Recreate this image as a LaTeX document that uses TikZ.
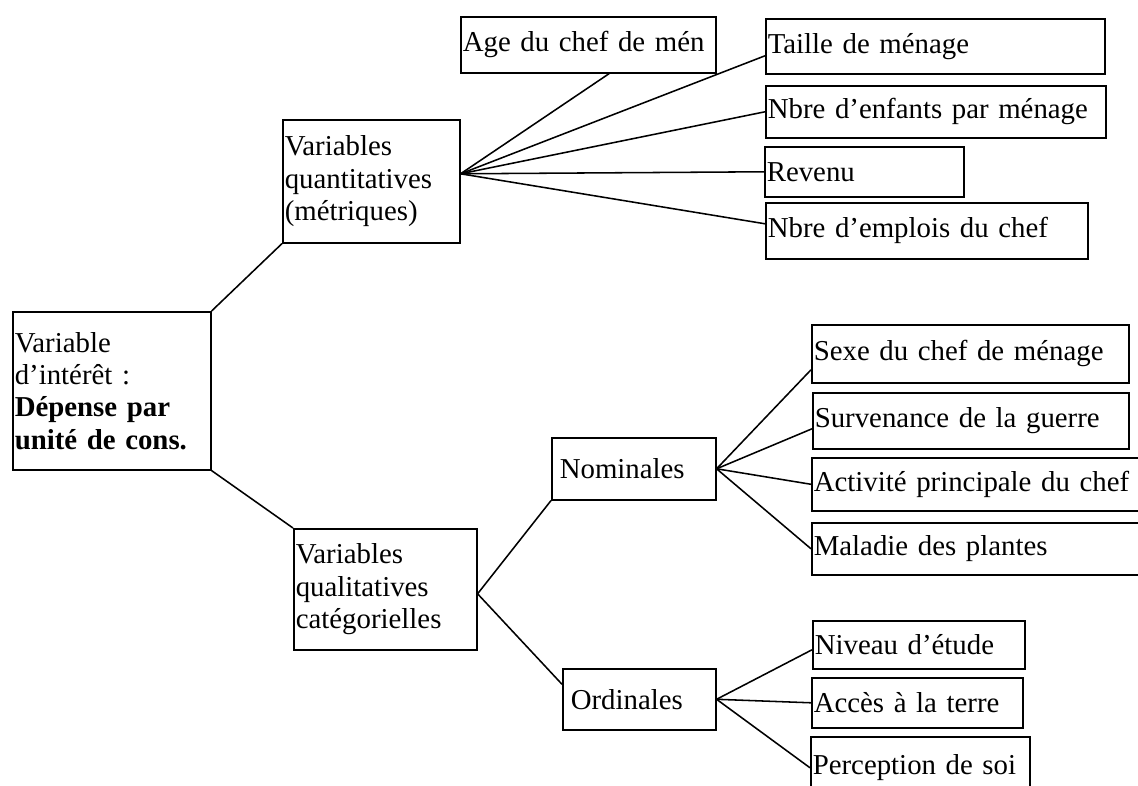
\documentclass[tikz,border=0pt]{standalone}
\usepackage{fontspec}
\setmainfont{Liberation Serif}[WordSpace=0.75]
\begin{document}
\begin{tikzpicture}[x=0.025cm, y=-0.025cm, line width=1.1pt,
  font=\fontsize{20.5}{23}\selectfont,
  box/.style 2 args={draw, anchor=north west, align=left, inner xsep=0.05cm,
    inner ysep=0pt, text width=#1, minimum height=#2},
  wide/.style={inner xsep=0.2cm}]
\clip (0,0) rectangle (1138,785);
\fill[white] (0,0) rectangle (1138,785);
% root and the two families
\node[box={4.85cm}{3.95cm}] (dep) at (12,311) {Variable\\d’intérêt :\\\textbf{Dépense par}\\\textbf{unité de cons.}};
\node[box={4.325cm}{3.075cm}] (quant) at (282,119) {Variables\\quantitatives\\(métriques)};
\node[box={4.475cm}{3.025cm}] (qual) at (293,528) {Variables\\qualitatives\\catégorielles};
% quantitative variables
\node[box={6.275cm}{1.4cm}] (age) at (460,16) {Age du chef de mén};
\node[box={8.375cm}{1.375cm}] (taille) at (765,18) {Taille de ménage};
\node[box={8.4cm}{1.3cm}] (enfants) at (765,85) {Nbre d’enfants par ménage};
\node[box={4.875cm}{1.25cm}] (revenu) at (764,146) {Revenu};
\node[box={7.95cm}{1.4cm}] (emplois) at (765,202) {Nbre d’emplois du chef};
% qualitative variables
\node[box={3.7cm}{1.55cm}, wide] (nominales) at (551,437) {Nominales};
\node[box={3.425cm}{1.525cm}, wide] (ordinales) at (562,668) {Ordinales};
\node[box={7.825cm}{1.45cm}] (sexe) at (811,324) {Sexe du chef de ménage};
\node[box={7.8cm}{1.4cm}] (guerre) at (812,392) {Survenance de la guerre};
\node[box={8.9cm}{1.325cm}] (activite) at (811,457) {Activité principale du chef};
\node[box={8.9cm}{1.3cm}] (maladie) at (811,522) {Maladie des plantes};
\node[box={5.2cm}{1.2cm}] (niveau) at (812,620) {Niveau d’étude};
\node[box={5.175cm}{1.25cm}] (acces) at (811,677) {Accès à la terre};
\node[box={5.375cm}{1.55cm}] (perception) at (810,736) {Perception de soi};

\draw (dep.north east) -- (quant.south west);
\draw (dep.south east) -- (qual.north west);

\coordinate (qfan) at ([yshift=0.1875cm]quant.east);
\draw (qfan) -- (age.306);
\draw (qfan) -- ([yshift=-0.2375cm]taille.west);
\draw (qfan) -- (enfants.west);
\draw (qfan) -- (revenu.west);
\draw (qfan) -- ([yshift=0.175cm]emplois.west);

\coordinate (cfan) at ([yshift=-0.1125cm]qual.east);
\draw (cfan) -- (nominales.south west);
\draw (cfan) -- (ordinales.169);

\draw (nominales.east) -- ([yshift=-0.4cm]sexe.west);
\draw (nominales.east) -- ([yshift=-0.2cm]guerre.west);
\draw (nominales.east) -- (activite.west);
\draw (nominales.east) -- (maladie.west);

\draw (ordinales.east) -- ([yshift=-0.125cm]niveau.west);
\draw (ordinales.east) -- (acces.west);
\draw (ordinales.east) -- (perception.west);
\end{tikzpicture}
\end{document}
